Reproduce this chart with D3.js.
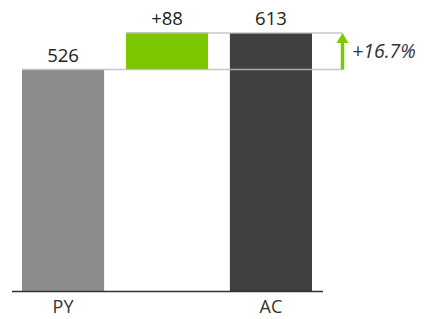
<!DOCTYPE html>
<html><head><meta charset="utf-8">
<script src="https://cdn.jsdelivr.net/npm/d3@7"></script>
<style>html,body{margin:0;padding:0;background:#fff;}svg{display:block;font-family:"Open Sans","Noto Sans",sans-serif;}</style>
</head><body>
<svg id="c" width="426" height="319"></svg>
<script>
const categories = ["PY", "Δ", "AC"];
const axisLabels = ["PY", "", "AC"];
const py = 526;
const ac = 613;
const delta = 88;
const deltaLabel = "+88";
const pctLabel = "+16.7%";

const svg = d3.select("#c");
const x = d3.scaleBand().domain(categories).range([22, 312]).paddingInner(0.21).paddingOuter(0);
const y = d3.scaleLinear().domain([0, ac]).range([291, 33]);

const bars = [
  {cat: "PY", y0: 0, y1: py, color: "#8c8c8c", label: String(py)},
  {cat: "Δ", y0: py, y1: py + delta, color: "#7cc800", label: deltaLabel},
  {cat: "AC", y0: 0, y1: ac, color: "#404040", label: String(ac)}
];

svg.selectAll("rect.bar").data(bars).join("rect")
  .attr("class", "bar")
  .attr("x", d => x(d.cat))
  .attr("width", x.bandwidth())
  .attr("y", d => y(d.y1))
  .attr("height", d => y(d.y0) - y(d.y1))
  .attr("fill", d => d.color);

const arrowX = 342.5;
// connector lines
svg.append("line").attr("x1", x("PY")).attr("x2", arrowX).attr("y1", y(py)).attr("y2", y(py))
  .attr("stroke", "#bdbdbd").attr("stroke-width", 1.5).attr("stroke-opacity", 0.85);
svg.append("line").attr("x1", x("Δ")).attr("x2", arrowX).attr("y1", y(ac)).attr("y2", y(ac))
  .attr("stroke", "#bdbdbd").attr("stroke-width", 1.5).attr("stroke-opacity", 0.85);

// value labels
svg.selectAll("text.val").data(bars).join("text")
  .attr("class", "val")
  .attr("x", d => x(d.cat) + x.bandwidth() / 2)
  .attr("y", d => y(d.y1) - 8)
  .attr("text-anchor", "middle")
  .attr("font-size", 18.5)
  .attr("fill", "#222")
  .text(d => d.label);

// arrow
svg.append("line").attr("x1", arrowX).attr("x2", arrowX).attr("y1", y(py)).attr("y2", y(ac) + 8)
  .attr("stroke", "#7cc800").attr("stroke-width", 3.5);
svg.append("path")
  .attr("d", `M${arrowX - 6},${y(ac) + 10} L${arrowX},${y(ac)} L${arrowX + 6},${y(ac) + 10} Z`)
  .attr("fill", "#7cc800");

svg.append("text").attr("x", 352).attr("y", (y(py) + y(ac)) / 2 + 7)
  .attr("font-size", 19.5).attr("font-style", "italic").attr("fill", "#333")
  .text(pctLabel);

// baseline
svg.append("line").attr("x1", 12).attr("x2", 323).attr("y1", y(0) + 0.5).attr("y2", y(0) + 0.5)
  .attr("stroke", "#333").attr("stroke-width", 1.5);

// category labels
svg.selectAll("text.cat").data(categories).join("text")
  .attr("class", "cat")
  .attr("x", d => x(d) + x.bandwidth() / 2)
  .attr("y", 313)
  .attr("text-anchor", "middle")
  .attr("font-size", 18)
  .attr("fill", "#333")
  .text((d, i) => axisLabels[i]);
</script>
</body></html>
